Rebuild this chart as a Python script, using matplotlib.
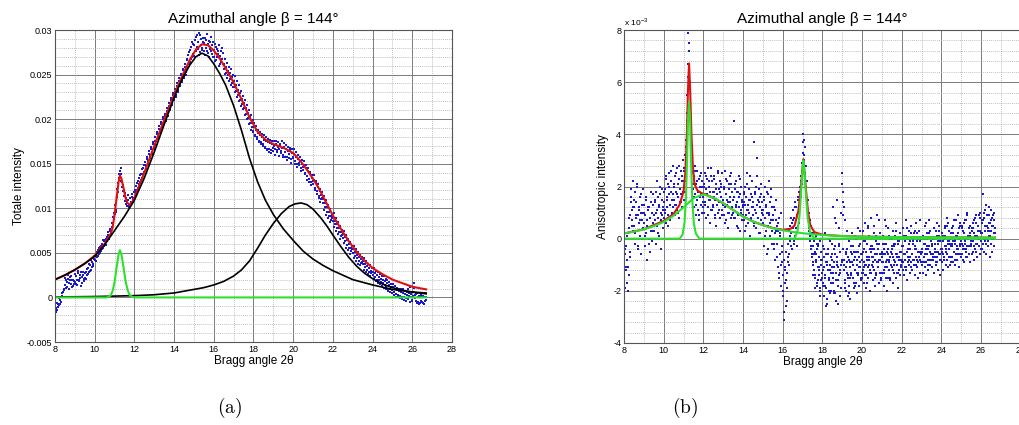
import numpy as np
import matplotlib
matplotlib.use("Agg")
import matplotlib.pyplot as plt
from matplotlib.ticker import MultipleLocator, FuncFormatter

plt.rcParams["font.family"] = ["Liberation Sans", "DejaVu Sans"]
plt.rcParams["mathtext.fontset"] = "cm"

# ---- (a) total intensity, measured points (units of 1e-4)
# first set: 2theta from 8.0, step 0.05
A_START, A_STEP = 8.0, 0.05
scatter_a = [
    -18, -12, -14, -7, -9, -3, -5, 2, 6, 10,
    14, 19, 12, 21, 16, 23, 15, 20, 13, 18,
    17, 24, 14, 27, 19, 22, 28, 16, 25, 21,
    22, 28, 25, 33, 29, 36, 31, 40, 35, 43,
    42, 48, 45, 53, 49, 57, 52, 60, 56, 63,
    60, 66, 63, 70, 67, 74, 71, 79, 84, 95,
    94, 98, 113, 118, 134, 142, 131, 138, 124, 126,
    114, 108, 112, 103, 109, 104, 111, 107, 113, 110,
    112, 121, 117, 128, 123, 134, 129, 139, 134, 145,
    141, 152, 147, 158, 153, 164, 159, 169, 163, 174,
    168, 180, 175, 186, 180, 192, 186, 197, 191, 202,
    195, 206, 201, 212, 207, 218, 213, 224, 218, 229,
    221, 234, 227, 240, 233, 246, 238, 251, 244, 256,
    246, 259, 253, 268, 259, 275, 264, 281, 270, 284,
    271, 289, 276, 294, 279, 297, 275, 290, 280, 286,
    276, 291, 280, 295, 274, 288, 279, 292, 273, 286,
    270, 284, 266, 279, 273, 283, 262, 277, 268, 274,
    256, 268, 252, 263, 249, 259, 245, 256, 240, 250,
    236, 248, 232, 243, 227, 238, 222, 232, 217, 226,
    212, 222, 206, 216, 201, 210, 196, 205, 191, 199,
    187, 196, 182, 192, 180, 188, 176, 186, 174, 183,
    172, 182, 169, 180, 167, 178, 166, 177, 165, 176,
    164, 176, 167, 175, 163, 174, 166, 172, 162, 175,
    160, 173, 163, 171, 158, 169, 161, 168, 155, 166,
    156, 167, 153, 163, 150, 160, 148, 157, 145, 154,
    143, 153, 140, 149, 136, 145, 133, 141, 129, 137,
    127, 137, 123, 131, 119, 127, 114, 122, 110, 118,
    106, 114, 101, 109, 96, 104, 91, 99, 87, 94,
    86, 95, 82, 89, 78, 85, 73, 80, 69, 76,
    67, 75, 63, 70, 59, 66, 55, 62, 52, 58,
    50, 58, 47, 54, 44, 51, 41, 48, 39, 45,
    37, 44, 34, 41, 31, 38, 29, 36, 27, 33,
    25, 33, 23, 30, 20, 28, 19, 26, 17, 24,
    16, 24, 14, 21, 12, 19, 10, 17, 9, 15,
    8, 15, 6, 13, 4, 11, 3, 10, 2, 9,
    1, 9, 0, 7, -1, 6, -2, 5, 12, 4,
    -3, 6, 16, 3, -4, 5, -5, 2, -6, 3,
    -5, 2, -7, 1, -3,
]
# second set: from 8.025, step 0.05
A2_START = 8.025
scatter_a2 = [
    -10, -16, -6, -11, -1, -7, 0, 5, 1, 8,
    22, 11, 17, 25, 10, 19, 24, 12, 20, 15,
    26, 15, 20, 30, 18, 25, 13, 23, 29, 18,
    27, 21, 32, 26, 37, 30, 42, 34, 38, 46,
    46, 41, 51, 46, 55, 50, 58, 54, 64, 58,
    64, 59, 68, 73, 65, 77, 75, 83, 90, 88,
    104, 96, 122, 128, 138, 136, 145, 129, 119, 121,
    117, 105, 107, 115, 101, 112, 106, 116, 108, 118,
    118, 125, 120, 131, 127, 137, 132, 144, 138, 149,
    149, 144, 155, 150, 161, 156, 167, 161, 172, 167,
    176, 171, 183, 178, 189, 184, 195, 189, 200, 194,
    203, 198, 209, 204, 215, 210, 221, 216, 227, 222,
    230, 225, 237, 231, 243, 237, 249, 242, 255, 248,
    262, 250, 266, 256, 272, 262, 278, 267, 287, 273,
    283, 270, 292, 281, 287, 272, 294, 283, 278, 291,
    285, 272, 289, 277, 284, 270, 287, 276, 283, 270,
    278, 265, 281, 270, 276, 260, 271, 264, 280, 262,
    262, 251, 258, 246, 254, 243, 252, 238, 247, 236,
    243, 230, 238, 225, 233, 220, 229, 215, 223, 211,
    218, 205, 212, 200, 207, 195, 202, 188, 196, 186,
    191, 181, 188, 178, 185, 174, 182, 172, 180, 170,
    177, 168, 175, 165, 174, 163, 173, 162, 172, 168,
    170, 160, 172, 165, 169, 159, 170, 164, 168, 158,
    169, 157, 166, 154, 164, 156, 165, 151, 162, 158,
    161, 150, 158, 146, 155, 151, 153, 142, 150, 146,
    148, 139, 145, 132, 142, 130, 138, 126, 134, 131,
    132, 120, 128, 116, 124, 111, 119, 107, 115, 112,
    110, 98, 106, 93, 101, 89, 96, 85, 91, 89,
    90, 79, 86, 74, 82, 71, 78, 66, 73, 70,
    71, 61, 68, 56, 64, 53, 60, 49, 56, 54,
    54, 44, 51, 41, 48, 38, 45, 36, 43, 40,
    41, 31, 38, 28, 35, 26, 33, 24, 30, 28,
    29, 21, 27, 18, 25, 16, 23, 15, 21, 13,
    20, 11, 18, 9, 16, 7, 14, 6, 12, 5,
    12, 3, 10, 1, 8, 0, 7, -1, 6, -2,
    5, -3, 4, -4, 3, 10, 2, -5, 1, -4,
    2, 11, -1, 4, -6, 1, -7, 0, -4, 2,
    -6, 0, -4, 1,
]

# fitted total curve (red)
red_a_x = [8.0, 8.5, 9.0, 9.5, 10.0, 10.5, 10.8, 10.9, 11.0, 11.1, 11.2, 11.27, 11.35,
           11.45, 11.55, 11.65, 11.75, 11.9, 12.0, 12.5, 13.0, 13.5, 14.0, 14.4, 14.8,
           15.1, 15.4, 15.7, 16.0, 16.3, 16.6, 17.0, 17.4, 17.8, 18.2, 18.6, 19.0, 19.5,
           20.0, 20.4, 20.7, 21.0, 21.3, 21.6, 22.0, 22.4, 22.8, 23.2, 23.6, 24.0, 24.5,
           25.0, 25.5, 26.0, 26.7]
red_a_y = [0.0020, 0.0025, 0.0031, 0.0038, 0.0047, 0.0060, 0.0071, 0.0078, 0.0093, 0.0111,
           0.0129, 0.0137, 0.0133, 0.0123, 0.0112, 0.0106, 0.0104, 0.0107, 0.0112, 0.0140,
           0.0170, 0.0199, 0.0227, 0.0248, 0.0267, 0.0278, 0.0284, 0.0283, 0.0277, 0.0268,
           0.0257, 0.0241, 0.0222, 0.0202, 0.0186, 0.0177, 0.0172, 0.0168, 0.0162, 0.0152,
           0.0143, 0.0133, 0.0122, 0.0109, 0.0092, 0.0077, 0.0063, 0.0051, 0.0041, 0.0033,
           0.0026, 0.0020, 0.0016, 0.0012, 0.0009]

# broad component 1 (black)
bk1_x = [8.0, 8.5, 9.0, 9.5, 10.0, 10.5, 11.0, 11.5, 12.0, 12.5, 13.0, 13.5, 14.0, 14.4,
         14.8, 15.1, 15.4, 15.7, 16.0, 16.3, 16.6, 17.0, 17.4, 17.8, 18.2, 18.6, 19.0,
         19.5, 20.0, 20.5, 21.0, 21.5, 22.0, 22.5, 23.0, 23.5, 24.0, 25.0, 26.0, 26.7]
bk1_y = [0.0020, 0.0025, 0.0031, 0.0038, 0.0046, 0.0059, 0.0075, 0.0091, 0.0109, 0.0134,
         0.0163, 0.0194, 0.0224, 0.0245, 0.0261, 0.0270, 0.0274, 0.0271, 0.0262, 0.0251,
         0.0238, 0.0215, 0.0187, 0.0156, 0.0130, 0.0109, 0.0093, 0.0077, 0.0064, 0.0052,
         0.0043, 0.0036, 0.0030, 0.0025, 0.0020, 0.0017, 0.0014, 0.0009, 0.0006, 0.0005]

# broad component 2 (black)
bk2_x = [8.0, 10.0, 12.0, 13.0, 14.0, 14.5, 15.0, 15.5, 16.0, 16.5, 17.0, 17.4, 17.8,
         18.2, 18.6, 19.0, 19.4, 19.8, 20.1, 20.4, 20.7, 21.0, 21.4, 21.7, 22.0, 22.4,
         22.8, 23.2, 23.6, 24.0, 24.5, 25.0, 25.5, 26.0, 26.7]
bk2_y = [0.00005, 0.0001, 0.0002, 0.0003, 0.0005, 0.0007, 0.0009, 0.0011, 0.0014, 0.0018,
         0.0024, 0.0031, 0.0041, 0.0055, 0.0070, 0.0083, 0.0094, 0.0102, 0.0105, 0.0106,
         0.0104, 0.0099, 0.0089, 0.0080, 0.0070, 0.0057, 0.0045, 0.0035, 0.0027, 0.0021,
         0.0015, 0.0011, 0.0008, 0.0006, 0.0004]

# narrow component (green)
gr_a_x = [8.0, 10.6, 10.8, 10.9, 11.0, 11.1, 11.2, 11.27, 11.35, 11.45, 11.55, 11.65,
          11.75, 11.9, 12.1, 26.7]
gr_a_y = [0.0, 0.0, 0.0002, 0.0007, 0.0017, 0.0033, 0.0048, 0.0053, 0.0048, 0.0034,
          0.0019, 0.0009, 0.0003, 0.00005, 0.0, 0.0]

# ---- (b) anisotropic intensity, measured points (units of 1e-4)
# first set: from 8.0, step 0.025
B_START, B_STEP = 8.0, 0.025
scatter_b = [
    -9, -15, -19, -6, -12, -3, -17, -8, -11, 2, -14, 4, 9, -5, 14, 19, 7, 11, 22, 3,
    12, 5, 18, -2, 8, 14, 3, 20, 9, -4, 11, 6, 16, 1, 10, -6, 13, 7, 19, 4,
    6, 13, -3, 9, 2, 15, 7, -8, 11, 4, 0, 12, 8, -5, 14, 3, 10, -1, 17, 6,
    9, 3, 14, 7, 18, -2, 11, 5, 16, 8, 1, 13, 20, 6, 10, -4, 15, 9, 4, 12,
    14, 8, 19, 11, 23, 6, 16, 12, 21, 9, 17, 25, 13, 7, 18, 22, 10, 15, 28, 12,
    15, 20, 9, 24, 13, 18, 27, 11, 21, 16, 8, 23, 19, 14, 26, 17, 12, 22, 30, 18,
    20, 15, 26, 18, 32, 24, 38, 45, 55, 62, 79, 72, 66, 58, 50, 42, 36, 30, 25, 21,
    19, 24, 12, 17, 28, 9, 21, 15, 26, 11, 18, 23, 7, 16, 20, 13, 25, 10, 22, 14,
    16, 21, 10, 25, 14, 19, 8, 23, 17, 12, 27, 15, 20, 6, 18, 24, 11, 16, 22, 13,
    12, 18, 24, 9, 15, 21, 5, 17, 13, 26, 10, 19, 14, 22, 8, 16, 20, 11, 25, 13,
    15, 9, 20, 12, 26, 7, 17, 13, 22, 4, 14, 19, 10, 24, 16, 8, 21, 12, 18, 11,
    10, 16, 45, 8, 19, 13, 22, 5, 14, 18, 9, 24, 12, 3, 17, 11, 20, 7, 15, 13,
    12, 7, 18, 14, 3, 20, 9, 16, 11, 25, 6, 13, 19, 10, 15, 1, 17, 8, 22, 12,
    9, 14, 37, 6, 17, 11, 20, 4, 13, 31, 8, 15, 19, 2, 12, 16, 7, 21, 10, 14,
    6, 11, -3, 16, 8, 20, 3, 13, -6, 10, 17, 5, 22, 9, 1, 14, 7, 19, -2, 12,
    4, 9, -4, 12, 2, -8, 7, 15, -2, 5, -11, 3, 8, -15, 1, -6, 10, -18, -3, -9,
    -14, -22, -8, -31, -17, -11, -26, -5, -19, -13, -2, -9, 3, -6, 5, -1, 8, 2, -4, 6,
    4, 11, -2, 8, 14, 1, 7, 12, -3, 9, 15, 5, 10, 18, 13, 20, 16, 24, 21, 29,
    33, 40, 26, 38, 30, 35, 24, 28, 18, 22, 12, 15, 8, 10, 3, 7, -1, 5, -4, 2,
    -6, -3, -9, 2, -12, -5, -15, 1, -8, -18, -4, -11, -2, -14, -7, -20, -1, -10, -16, -13,
    -8, -17, -3, -22, -11, 2, -14, -6, -19, -9, -25, -4, -12, -16, 0, -10, -21, -7, -13, -2,
    -6, 12, -15, -9, -20, 8, -3, -13, -24, 15, -7, -11, -18, 4, -14, -5, -22, -10, 10, -8,
    25, 18, -4, 12, -12, 7, -16, -6, -20, -9, 3, -14, -7, -18, -1, -11, -23, -5, -13, 2,
    -9, -15, -3, -19, -8, 1, -12, -17, -5, -21, -10, 4, -14, -7, -18, -2, -11, -16, -6, -13,
    -6, -12, 3, -17, -9, -4, -14, 6, -10, -19, -7, -2, -15, -11, 1, -8, -13, -20, -5, 8,
    -10, -3, -16, -7, 5, -12, -18, -6, -1, -14, -9, 9, -11, -4, -17, -8, 2, -13, -6, -15,
    -7, -13, 1, -9, -18, -4, 7, -11, -15, -2, -8, -20, -6, 4, -12, -9, -16, 0, -5, -10,
    -4, -11, -17, 3, -8, -13, -2, -9, 6, -15, -6, -10, -19, -1, -7, -12, 2, -14, -5, -8,
    -9, -3, -12, 4, -6, -14, -1, -8, 7, -11, -5, -16, 0, -7, -10, 3, -13, -4, -9, 5,
    -6, -12, -2, -8, 2, -10, -4, -14, 6, -7, -11, -1, -9, -15, 3, -5, -8, -13, 0, -6,
    -5, -10, 1, -13, -7, -2, -9, 5, -11, -4, -14, -6, 2, -8, -12, -3, 7, -10, -5, -1,
    -8, -3, -11, 0, -6, -13, 4, -7, -2, -10, -5, 6, -9, -12, -1, -6, 3, -8, -14, -4,
    -4, -9, 2, -6, -12, 0, -7, 5, -3, -10, -5, 8, -8, -1, -11, -4, 3, -7, -2, -9,
    -3, -7, 4, -9, -1, -5, 7, -10, -2, -6, 1, -8, -4, 9, -6, -11, 0, -3, 5, -7,
    -2, -6, 5, -8, -3, 2, -9, -1, 7, -5, -4, 10, -7, 0, -3, 4, -6, -9, 1, -2,
    -3, 3, -6, 6, -1, -8, 2, -4, 8, -2, -5, 1, -7, 5, 0, -3, 9, -6, 3, -1,
    2, -4, 6, 17, -2, 8, -5, 3, 11, -1, 5, -6, 9, 0, 4, -3, 12, 1, -7, 6,
    3, -2, 8, -5, 5, 0, 10, -3, 4,
]
# second set: from 8.0125, step 0.05
B2_START, B2_STEP = 8.0125, 0.05
scatter_b2 = [
    -16, -4, -11, 1, -20, 8, -7, 16, 5, 12,
    15, 2, 9, 21, -3, 12, 7, 17, 0, 10,
    10, 1, 16, 5, 12, -2, 8, 18, 3, 13,
    5, 15, 10, 22, 2, 12, 17, 7, 19, 11,
    18, 10, 24, 15, 5, 20, 13, 26, 9, 17,
    21, 13, 25, 17, 10, 28, 19, 14, 24, 22,
    27, 22, 35, 48, 67, 75, 60, 44, 33, 26,
    16, 26, 13, 22, 18, 9, 24, 17, 20, 12,
    20, 13, 24, 17, 9, 22, 15, 27, 11, 18,
    16, 23, 8, 19, 13, 25, 11, 18, 21, 9,
    13, 19, 6, 23, 15, 10, 21, 14, 25, 9,
    15, 8, 21, 12, 18, 4, 16, 23, 10, 14,
    9, 17, 13, 5, 21, 11, 15, 24, 7, 16,
    12, 5, 18, 10, 24, 8, 14, 2, 17, 11,
    9, 15, 1, 12, 18, -4, 10, 6, 16, 3,
    7, -2, 11, 3, -7, 6, -13, 2, -10, -5,
    -20, -28, -12, -16, -24, -7, -10, 1, -3, 4,
    7, -1, 12, 4, 9, 16, 6, 14, 22, 26,
    37, 32, 25, 20, 14, 9, 4, 1, -3, -7,
    -10, -1, -14, -6, -17, -3, -12, -19, -8, -15,
    -12, -4, -18, -9, -23, -6, -15, -1, -20, -11,
    -17, -4, -11, -21, 6, -9, -16, -2, -13, -19,
    21, 9, -10, -17, -5, -13, -22, -8, -15, -3,
    -9, -3, -17, -7, 0, -13, -5, -11, 3, -15,
    -8, -13, -1, -10, -5, -17, 5, -7, -12, -3,
    -4, -11, 2, -8, -13, -2, -9, 7, -6, -15,
    -9, -2, -13, -6, 5, -11, -4, -8, -15, 0,
    -6, -12, -2, -9, 3, -7, -13, -1, -5, -10,
    -3, -9, 1, -6, -12, 4, -4, -8, -1, -11,
    -6, -1, -10, 3, -4, -8, 0, -7, 7, -5,
    -4, -9, 0, -6, 6, -3, -10, 2, -5, -8,
    -2, -7, 4, -4, -9, 1, -5, 5, -1, -8,
    -4, 1, -8, 4, -3, -6, 6, -1, -10, 2,
    -2, 5, -5, 0, -8, 7, -3, 2, -6, 6,
    -1, 4, -4, 6, -2, -7, 9, 1, -3, 5,
    -1, 4, -5, 7, 1, 9, -2, 3, 0, 10,
    2, 7, -2, 10, 0, 13, 5, -1, 9, 3,
    7, 0, 9, 2,
]
# third set (dense part beyond the second peak): from 17.5375, step 0.05
B3_START, B3_STEP = 17.5375, 0.05
scatter_b3 = [
    -14, -6, -19, -9, -2, -16, -11, -22, -5, -13,
    -18, -7, -15, -26, -10, -4, -20, -12, -17, -8,
    -13, -21, -6, -16, -10, -25, -3, -12, -19, -9,
    14, -8, -19, -11, -4, -15, -21, -9, -14, -6,
    -10, -5, -18, 0, -8, -13, -3, -9, -6, -15,
    -5, -11, -1, -14, -8, 4, -10, -4, -13, -7,
    -9, -4, -15, 1, -6, -11, -2, -8, -16, -5,
    -6, -12, -2, -9, -5, -15, 1, -7, -10, -3,
    -7, -3, -10, 1, -6, -13, -2, -8, -5, -11,
    -8, -3, -6, -11, 1, -5, -9, -2, -7, 2,
    -6, 0, -8, -3, -10, 2, -5, -7, -1, -9,
    -5, 1, -7, -2, -9, 0, -4, -8, 3, -6,
    -3, -8, 0, -5, 3, -7, -2, 1, -6, -4,
    -5, -1, -8, 1, -4, 5, -2, -7, 0, -3,
    -3, 2, -5, -1, -8, 1, -4, 4, -2, -6,
    -2, 3, -4, 0, 7, -3, 1, -6, 2, -1,
    -1, 4, -3, 1, 6, -2, 3, 0, 8, -4,
    2, 7, 0, 5, -2, 9, 3, 6, 1, 11,
    5, 0, 7, 2,
]

# fitted curves, units of 1e-3
red_b_x = [8.0, 9.0, 10.0, 10.5, 10.8, 11.0, 11.1, 11.17, 11.22, 11.28, 11.34, 11.4, 11.47,
           11.55, 11.7, 11.9, 12.1, 12.5, 13.0, 13.5, 14.0, 14.5, 15.0, 15.5, 16.0, 16.4,
           16.6, 16.8, 16.92, 17.04, 17.16, 17.28, 17.4, 17.6, 18.0, 19.0, 20.0, 22.0,
           24.0, 26.7]
red_b_y = [0.2, 0.36, 0.68, 0.95, 1.3, 1.8, 2.6, 4.0, 5.6, 6.72, 5.6, 4.0, 2.8, 2.1, 1.85,
           1.75, 1.7, 1.56, 1.36, 1.1, 0.85, 0.66, 0.52, 0.41, 0.34, 0.38, 0.5, 1.1, 2.0,
           3.05, 2.0, 1.0, 0.5, 0.25, 0.15, 0.1, 0.08, 0.06, 0.05, 0.04]

broad_b_x = [8.0, 8.5, 9.0, 9.5, 10.0, 10.5, 11.0, 11.5, 12.0, 12.5, 13.0, 13.5, 14.0,
             14.5, 15.0, 15.5, 16.0, 16.5, 17.0, 17.5, 18.0, 19.0, 20.0, 21.0, 22.0, 24.0,
             26.7]
broad_b_y = [0.2, 0.27, 0.36, 0.48, 0.64, 0.88, 1.2, 1.55, 1.7, 1.58, 1.36, 1.1, 0.85,
             0.66, 0.52, 0.4, 0.32, 0.26, 0.21, 0.17, 0.14, 0.1, 0.08, 0.07, 0.06, 0.05,
             0.04]

peak1_b_x = [8.0, 10.8, 10.95, 11.05, 11.12, 11.18, 11.23, 11.28, 11.33, 11.38, 11.44,
             11.52, 11.62, 11.8, 26.7]
peak1_b_y = [0.0, 0.0, 0.15, 0.6, 1.5, 3.0, 4.6, 5.25, 4.6, 3.0, 1.5, 0.6, 0.2, 0.0, 0.0]

peak2_b_x = [16.6, 16.75, 16.85, 16.93, 17.0, 17.04, 17.1, 17.17, 17.26, 17.38, 17.55, 17.7]
peak2_b_y = [0.0, 0.3, 0.9, 1.8, 2.7, 3.0, 2.6, 1.7, 0.8, 0.25, 0.05, 0.0]

TITLE = "Azimuthal angle \u03b2 = 144\u00b0"
XLABEL = "Bragg angle 2\u03b8"

BLUE = "#1a1ac8"
RED = "#e01010"
GREEN = "#2ee02e"
TICK_FS = 6.5
MS = 1.8


def style_axes(ax, ymin, ymax, ymaj, ymin_step):
    ax.set_xlim(8, 28)
    ax.set_ylim(ymin, ymax)
    ax.xaxis.set_major_locator(MultipleLocator(2))
    ax.xaxis.set_minor_locator(MultipleLocator(1))
    ax.yaxis.set_major_locator(MultipleLocator(ymaj))
    ax.yaxis.set_minor_locator(MultipleLocator(ymin_step))
    ax.grid(which="major", color="#7a7a7a", lw=0.7, ls="-")
    ax.grid(which="minor", color="#a8a8a8", lw=0.6, ls=(0, (1, 1.5)))
    ax.set_axisbelow(True)
    ax.tick_params(which="both", direction="in", length=0, labelsize=TICK_FS, pad=2)
    for s in ax.spines.values():
        s.set_color("#555555")
        s.set_linewidth(0.8)
    ax.xaxis.set_major_formatter(FuncFormatter(lambda v, p: "%g" % round(v, 6)))
    ax.yaxis.set_major_formatter(FuncFormatter(lambda v, p: "%g" % round(v, 6)))
    ax.set_title(TITLE, fontsize=11, pad=5)
    ax.set_xlabel(XLABEL, fontsize=8.5, labelpad=1)


def dots(ax, start, step, vals, scale):
    x = start + step * np.arange(len(vals))
    ax.plot(x, np.array(vals) * scale, ls="none", marker="s", ms=MS, mew=0, color=BLUE)


fig = plt.figure(figsize=(10.2, 4.25), dpi=100)

# (a)
ax1 = fig.add_axes([55 / 1020, 1 - 342 / 425, 397 / 1020, 312 / 425])
dots(ax1, A_START, A_STEP, scatter_a, 1e-4)
dots(ax1, A2_START, A_STEP, scatter_a2, 1e-4)
ax1.plot(red_a_x, red_a_y, color=RED, lw=1.5)
ax1.plot(bk1_x, bk1_y, color="black", lw=1.2)
ax1.plot(bk2_x, bk2_y, color="black", lw=1.2)
ax1.plot(gr_a_x, gr_a_y, color=GREEN, lw=1.5)
style_axes(ax1, -0.005, 0.03, 0.005, 0.001)
ax1.set_ylabel("Totale intensity", fontsize=8.5, labelpad=1.5)

# (b)
ax2 = fig.add_axes([624 / 1020, 1 - 343 / 425, 396.7 / 1020, 313 / 425])
dots(ax2, B_START, B_STEP, scatter_b, 0.1)
dots(ax2, B2_START, B2_STEP, scatter_b2, 0.1)
dots(ax2, B3_START, B3_STEP, scatter_b3, 0.1)
ax2.plot(red_b_x, red_b_y, color=RED, lw=1.5)
ax2.plot(broad_b_x, broad_b_y, color=GREEN, lw=1.5)
ax2.plot(peak1_b_x, peak1_b_y, color=GREEN, lw=1.5)
ax2.plot(peak2_b_x, peak2_b_y, color=GREEN, lw=1.5)
style_axes(ax2, -4, 8, 2, 0.4)
ax2.set_ylabel("Anisotropic intensity", fontsize=8.5, labelpad=3)
fig.text(624 / 1020, 1 - 22 / 425, r"x 10$^{\mathregular{-3}}$", fontsize=6,
         ha="left", va="center")

fig.text(230 / 1020, 1 - 408 / 425, r"$\mathrm{(a)}$", fontsize=14, ha="center",
         va="center")
fig.text(685 / 1020, 1 - 408 / 425, r"$\mathrm{(b)}$", fontsize=14, ha="center",
         va="center")

fig.savefig("out.png", dpi=100)
